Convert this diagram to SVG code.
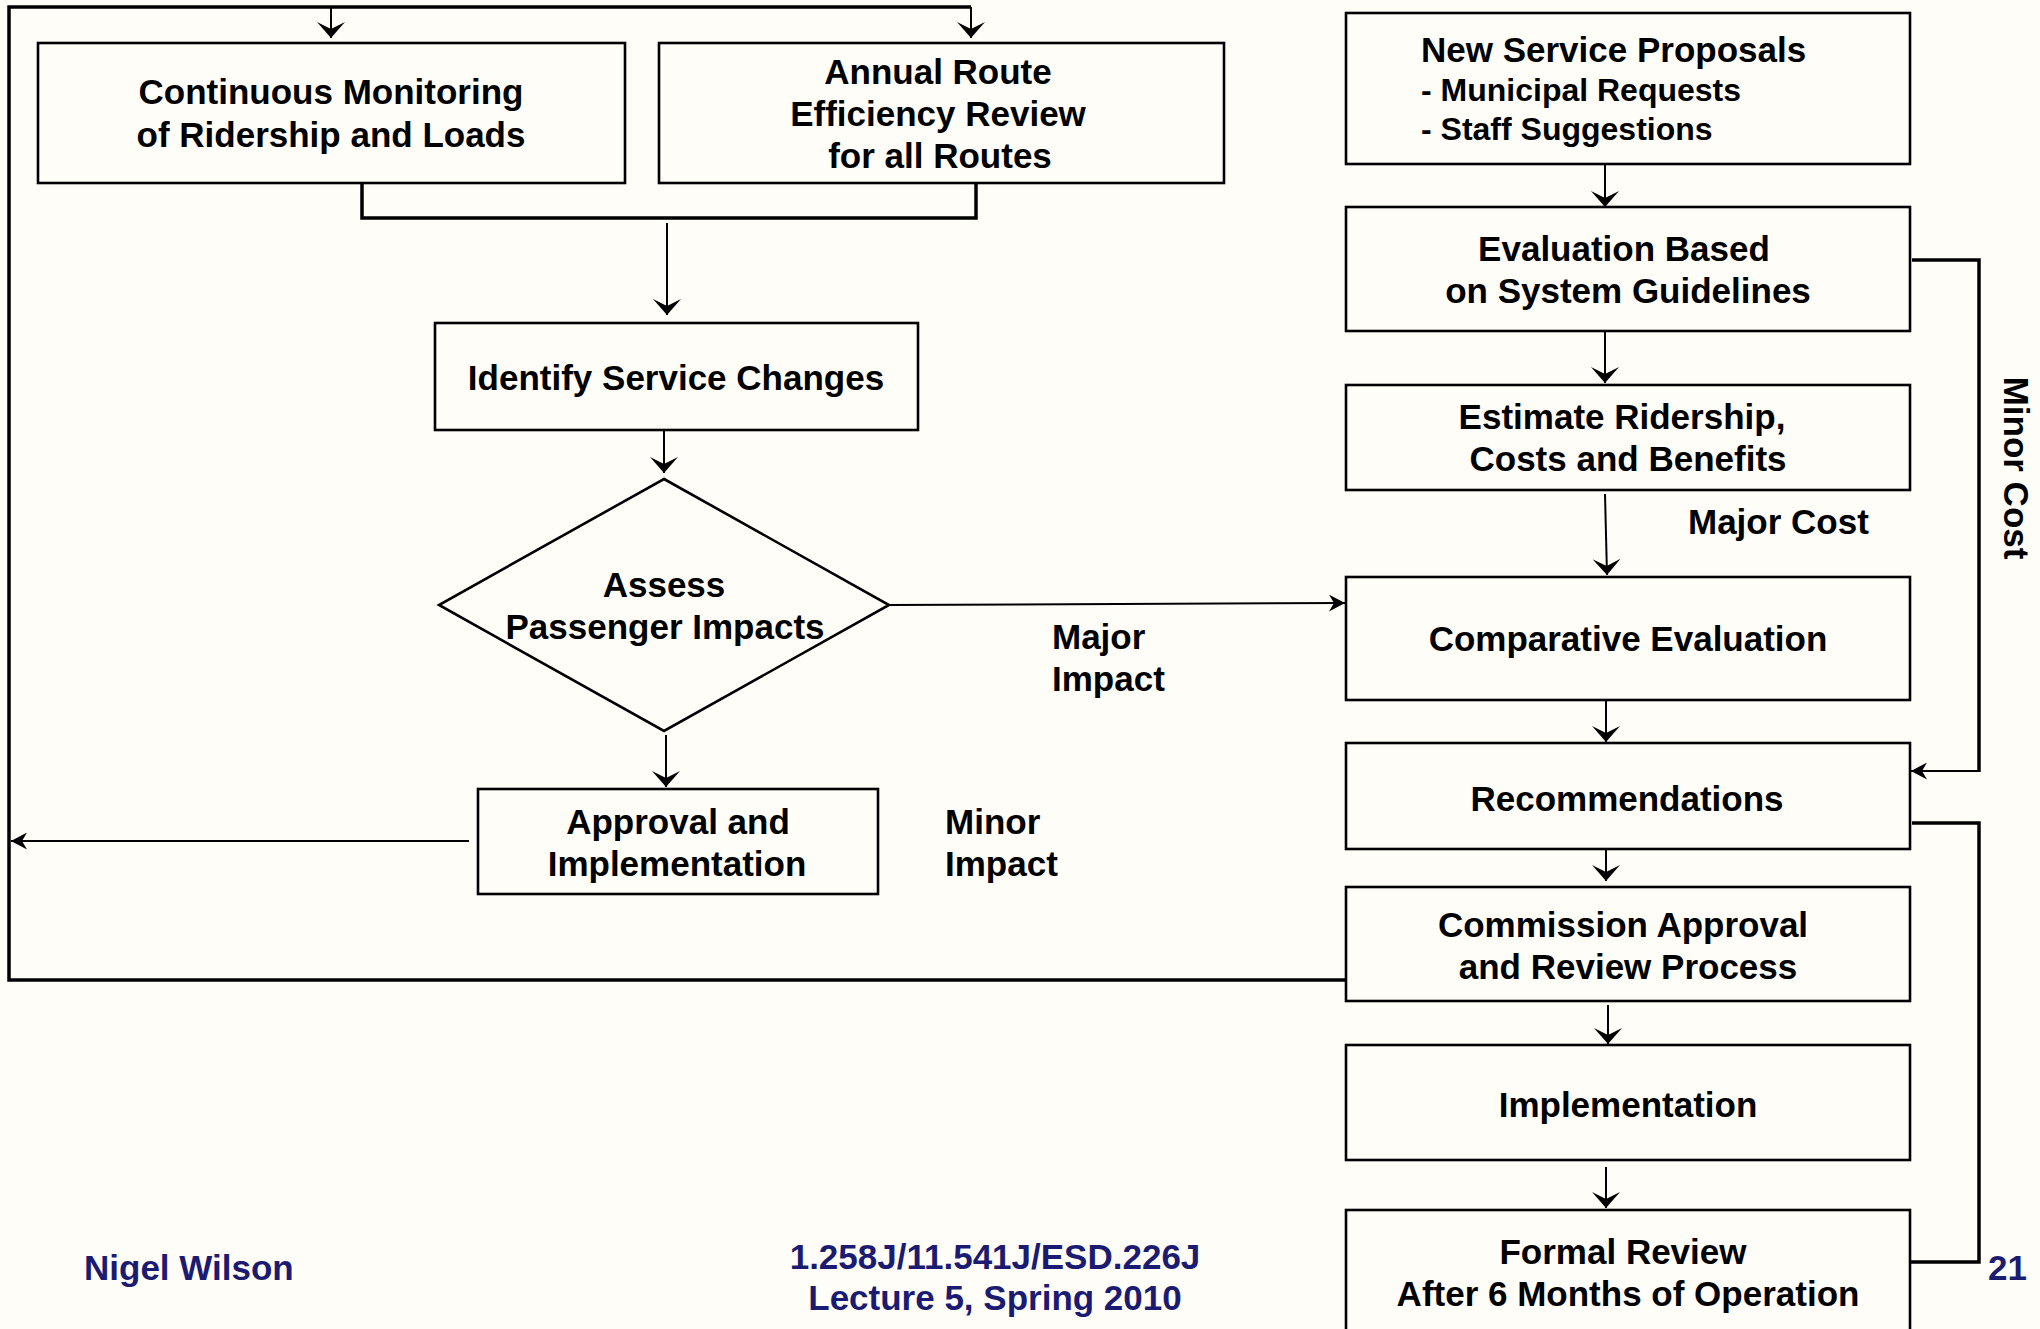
<svg xmlns="http://www.w3.org/2000/svg" width="2040" height="1329" viewBox="0 0 2040 1329">
  <defs>
    <!-- notched arrowheads: wide for vertical runs, narrow for horizontal runs -->
    <marker id="arrV" viewBox="0 -14 16 28" markerWidth="16" markerHeight="28" refX="16" refY="0" orient="auto" markerUnits="userSpaceOnUse">
      <path d="M0,-14 L16,0 L0,14 L7,0 Z" fill="#000"/>
    </marker>
    <marker id="arrH" viewBox="0 -8.5 16 17" markerWidth="16" markerHeight="17" refX="16" refY="0" orient="auto" markerUnits="userSpaceOnUse">
      <path d="M0,-8.5 L16,0 L0,8.5 L5,0 Z" fill="#000"/>
    </marker>
  </defs>
  <style>
    .box { fill: #fffdf8; stroke: #000; stroke-width: 2.6; }
    .t { font-family: "Liberation Sans", Arial, Helvetica, sans-serif; font-weight: bold; font-size: 35px; fill: #000; }
    .c { text-anchor: middle; }
    .sub { font-size: 32px; }
    .foot { fill: #1b1b72; }
    .ln { fill: none; stroke: #000; stroke-width: 2; }
    .thick { fill: none; stroke: #000; stroke-width: 3.5; }
    .av { marker-end: url(#arrV); }
    .ah { marker-end: url(#arrH); }
  </style>

  <rect x="0" y="0" width="2040" height="1329" fill="#fffdf8"/>

  <!-- connectors -->
  <g id="connectors">
    <!-- feedback frame around the left side -->
    <path class="thick" d="M1346,980 L9,980 L9,7 L971,7"/>
    <line class="ln av" x1="331" y1="7" x2="331" y2="38"/>
    <line class="ln av" x1="971" y1="7" x2="971" y2="38"/>
    <!-- bracket joining the two monitoring boxes -->
    <path class="thick" d="M362,178 L362,218 L976,218 L976,180"/>
    <line class="ln av" x1="667" y1="223" x2="667" y2="315"/>
    <line class="ln av" x1="664" y1="430" x2="664" y2="473"/>
    <line class="ln av" x1="666" y1="735" x2="666" y2="787"/>
    <line class="ln ah" x1="469" y1="841" x2="11" y2="841"/>
    <!-- major impact -->
    <line class="ln ah" x1="889" y1="605" x2="1345" y2="603" stroke-width="2.4"/>
    <!-- right column chain -->
    <line class="ln av" x1="1605" y1="164" x2="1605" y2="207"/>
    <line class="ln av" x1="1605" y1="331" x2="1605" y2="383"/>
    <line class="ln av" x1="1605" y1="494" x2="1607" y2="575"/>
    <line class="ln av" x1="1606" y1="700" x2="1606" y2="742"/>
    <line class="ln av" x1="1606" y1="849" x2="1606" y2="881"/>
    <line class="ln av" x1="1608" y1="1005" x2="1608" y2="1044"/>
    <line class="ln av" x1="1606" y1="1167" x2="1606" y2="1208"/>
    <!-- minor cost bypass -->
    <path class="thick" d="M1912,260 L1979,260 L1979,772"/>
    <line class="ln ah" x1="1979" y1="771" x2="1911" y2="771"/>
    <!-- formal review loop -->
    <path class="thick" d="M1912,823 L1979,823 L1979,1262 L1910,1262"/>
  </g>

  <g id="continuous-monitoring">
    <rect class="box" x="38" y="43" width="587" height="140"/>
    <text class="t c" x="331" y="104">Continuous Monitoring</text>
    <text class="t c" x="331" y="147">of Ridership and Loads</text>
  </g>

  <g id="annual-review">
    <rect class="box" x="659" y="43" width="565" height="140"/>
    <text class="t c" x="938" y="84">Annual Route</text>
    <text class="t c" x="938" y="126">Efficiency Review</text>
    <text class="t c" x="940" y="168">for all Routes</text>
  </g>

  <g id="identify-changes">
    <rect class="box" x="435" y="323" width="483" height="107"/>
    <text class="t c" x="676" y="390">Identify Service Changes</text>
  </g>

  <g id="assess-impacts">
    <polygon class="box" points="664,479 889,605 664,731 439,605" stroke-width="2.2"/>
    <text class="t c" x="664" y="597">Assess</text>
    <text class="t c" x="665" y="639">Passenger Impacts</text>
  </g>

  <g id="approval-implementation">
    <rect class="box" x="478" y="789" width="400" height="105"/>
    <text class="t c" x="678" y="834">Approval and</text>
    <text class="t c" x="677" y="876">Implementation</text>
  </g>

  <g id="impact-labels">
    <text class="t" x="1052" y="649">Major</text>
    <text class="t" x="1052" y="691">Impact</text>
    <text class="t" x="945" y="834">Minor</text>
    <text class="t" x="945" y="876">Impact</text>
  </g>

  <g id="new-proposals">
    <rect class="box" x="1346" y="13" width="564" height="151"/>
    <text class="t" x="1421" y="62">New Service Proposals</text>
    <text class="t sub" x="1421" y="101">- Municipal Requests</text>
    <text class="t sub" x="1421" y="140">- Staff Suggestions</text>
  </g>

  <g id="guideline-evaluation">
    <rect class="box" x="1346" y="207" width="564" height="124"/>
    <text class="t c" x="1624" y="261">Evaluation Based</text>
    <text class="t c" x="1628" y="303">on System Guidelines</text>
  </g>

  <g id="estimate">
    <rect class="box" x="1346" y="385" width="564" height="105"/>
    <text class="t c" x="1622" y="429">Estimate Ridership,</text>
    <text class="t c" x="1628" y="471">Costs and Benefits</text>
  </g>

  <g id="cost-labels">
    <text class="t" x="1688" y="534">Major Cost</text>
    <text class="t c" transform="translate(2004,468) rotate(90)">Minor Cost</text>
  </g>

  <g id="comparative-evaluation">
    <rect class="box" x="1346" y="577" width="564" height="123"/>
    <text class="t c" x="1628" y="651">Comparative Evaluation</text>
  </g>

  <g id="recommendations">
    <rect class="box" x="1346" y="743" width="564" height="106"/>
    <text class="t c" x="1627" y="811">Recommendations</text>
  </g>

  <g id="commission-approval">
    <rect class="box" x="1346" y="887" width="564" height="114"/>
    <text class="t c" x="1623" y="937">Commission Approval</text>
    <text class="t c" x="1628" y="979">and Review Process</text>
  </g>

  <g id="implementation">
    <rect class="box" x="1346" y="1045" width="564" height="115"/>
    <text class="t c" x="1628" y="1117">Implementation</text>
  </g>

  <g id="formal-review">
    <rect class="box" x="1346" y="1210" width="564" height="140"/>
    <text class="t c" x="1623" y="1264">Formal Review</text>
    <text class="t c" x="1628" y="1306">After 6 Months of Operation</text>
  </g>

  <g id="footer">
    <text class="t foot" x="84" y="1280">Nigel Wilson</text>
    <text class="t c foot" x="995" y="1269">1.258J/11.541J/ESD.226J</text>
    <text class="t c foot" x="995" y="1310">Lecture 5, Spring 2010</text>
    <text class="t foot" x="1988" y="1280">21</text>
  </g>
</svg>
